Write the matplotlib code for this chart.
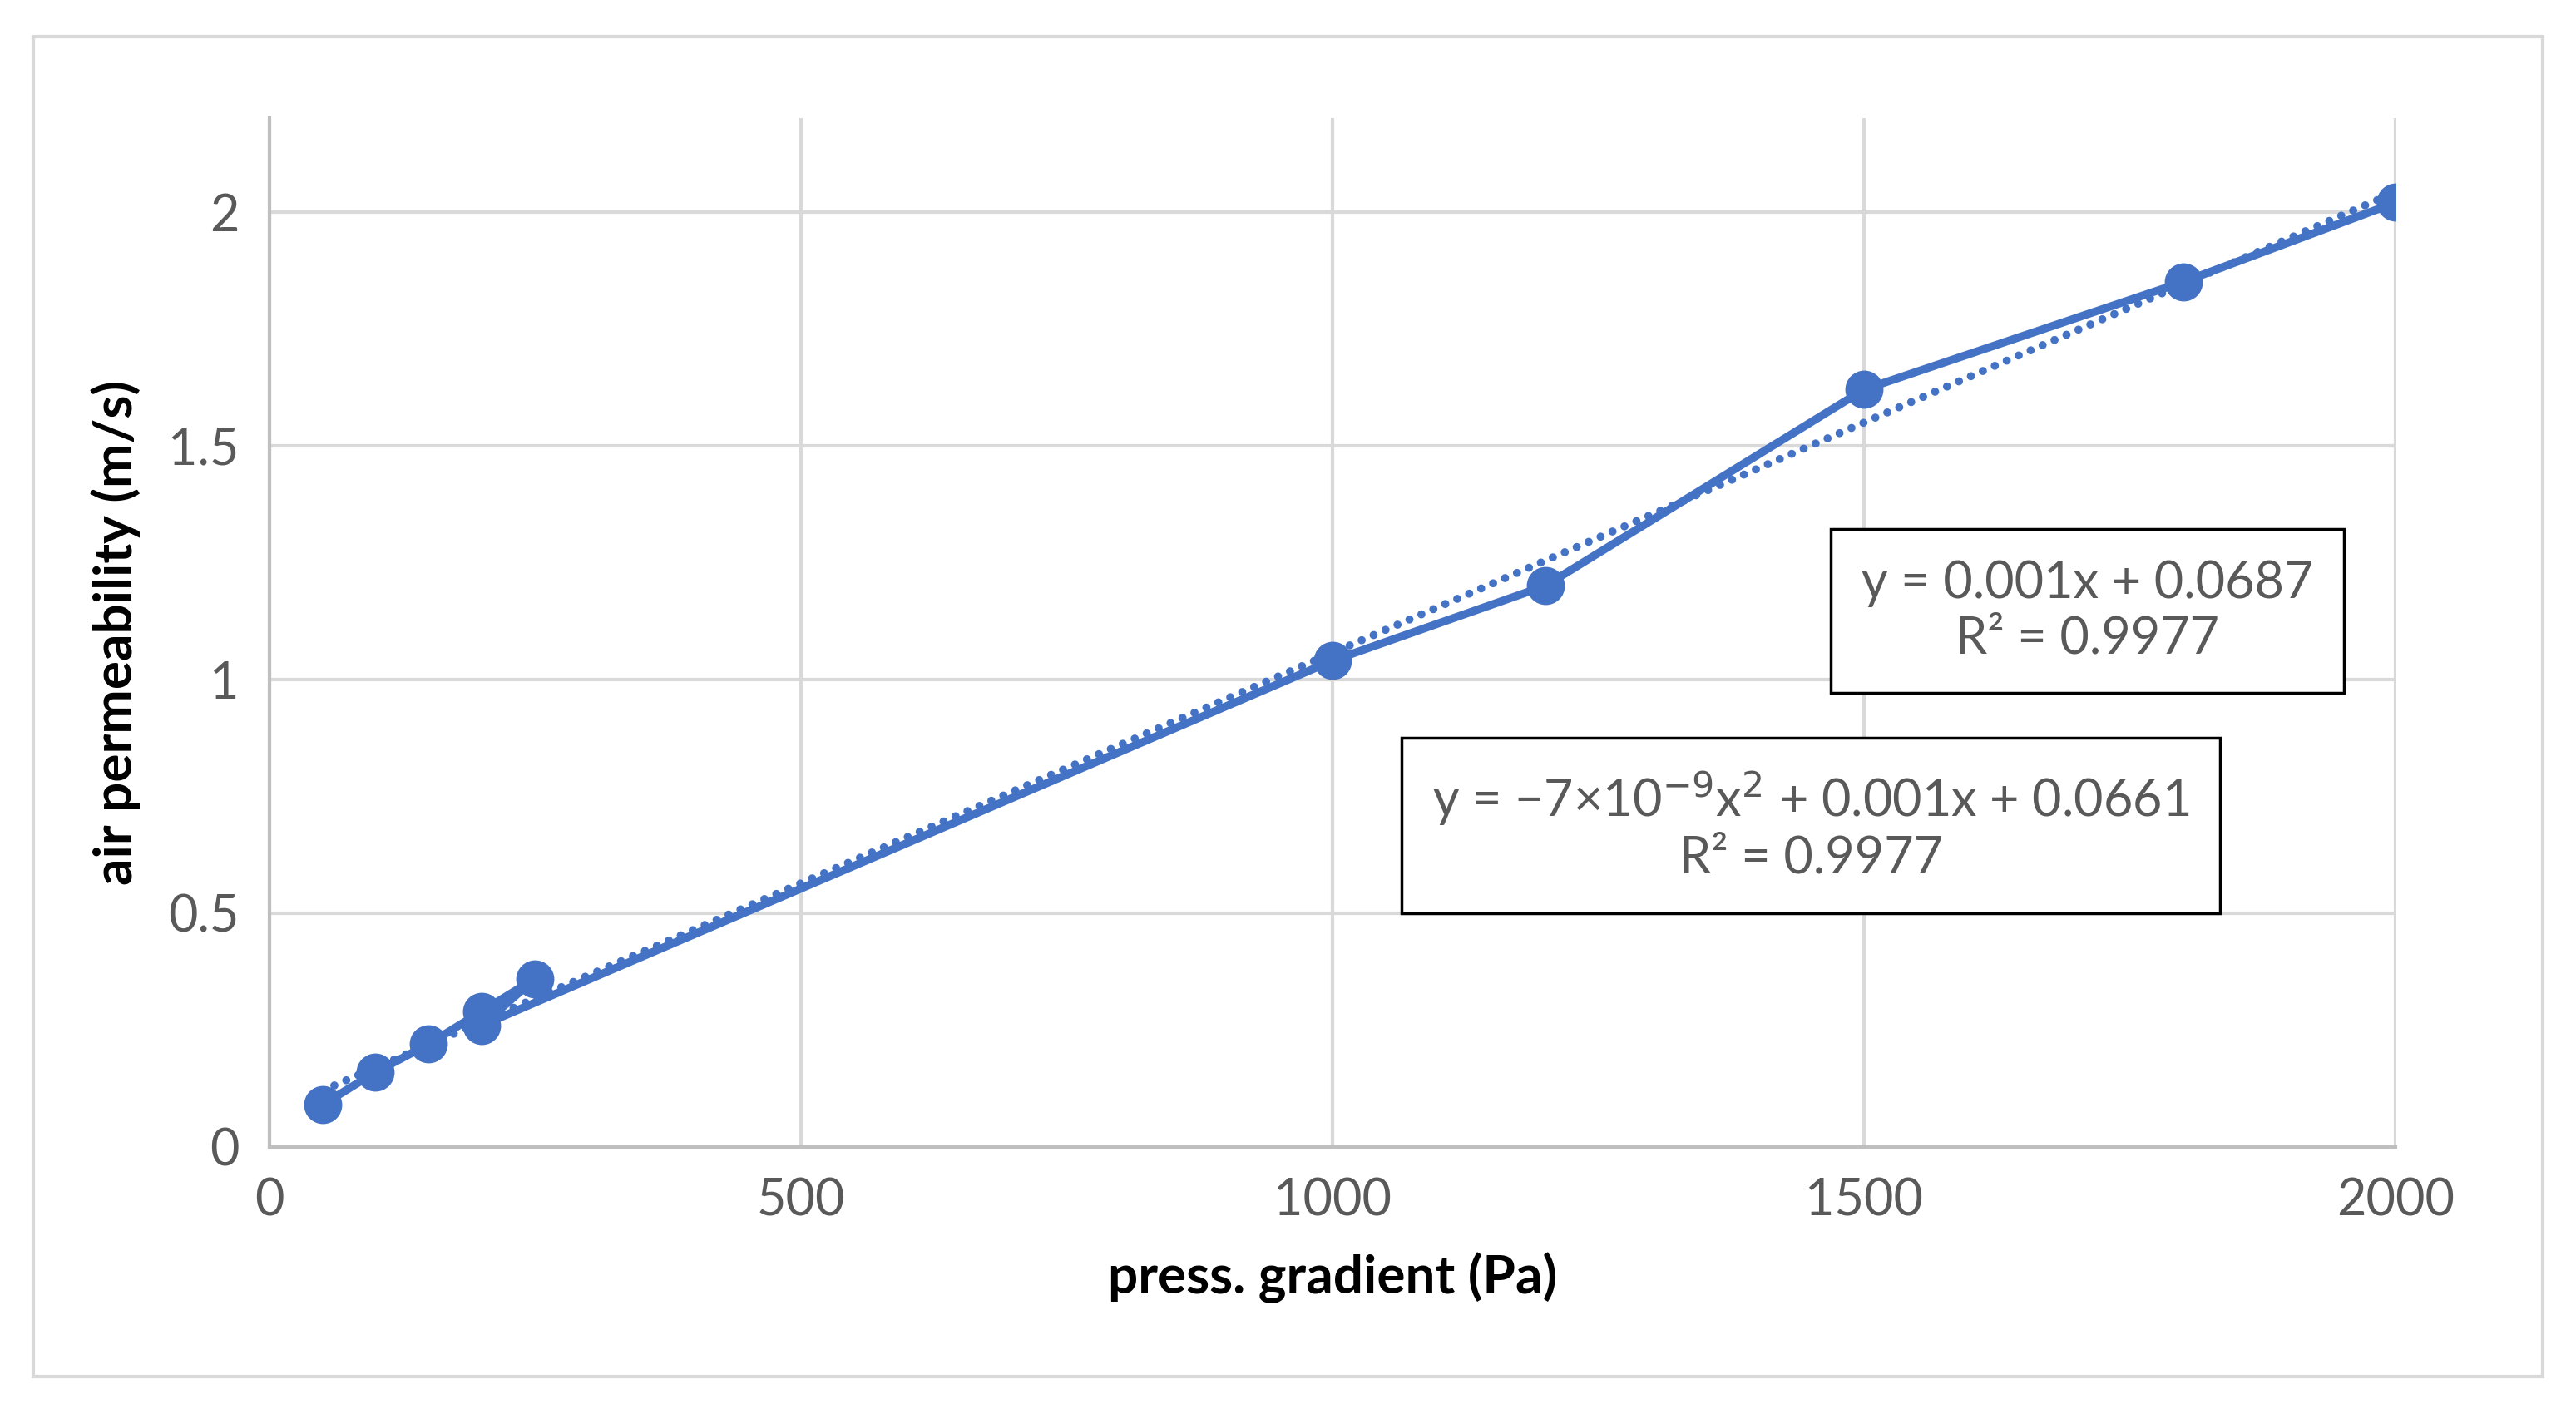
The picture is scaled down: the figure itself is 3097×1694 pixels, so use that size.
import matplotlib
matplotlib.use("Agg")
import matplotlib.pyplot as plt
import numpy as np
from matplotlib.patches import Rectangle

plt.rcParams["font.family"] = ["Lato", "DejaVu Sans"]

# measurement order as plotted (line joins points in this order)
press = [50, 100, 150, 200, 250, 200, 1000, 1200, 1500, 1800, 2000]
perm = [0.09, 0.16, 0.22, 0.29, 0.36, 0.26, 1.04, 1.20, 1.62, 1.85, 2.02]
eq_linear = "y = 0.001x + 0.0687\nR² = 0.9977"
eq_poly = "y = \u22127\u00d710$^{\u22129}$x$^{2}$ + 0.001x + 0.0661\nR² = 0.9977"

BLUE = "#4472C4"

fig = plt.figure(figsize=(30.97, 16.94), dpi=100)
ax = fig.add_axes([0.1045, 0.186, 0.8255, 0.730])

# trendline fitted from the data
coef = np.polyfit(press, perm, 1)
xt = np.array([50, 2000])
ax.plot(xt, np.polyval(coef, xt), linestyle=(0, (0.01, 1.6)), color=BLUE,
        linewidth=7, dash_capstyle="round", zorder=2)
ax.plot(press, perm, color=BLUE, linewidth=7, marker="o", markersize=32, zorder=3)

ax.set_xlim(0, 2000)
ax.set_ylim(0, 2.2)
ax.set_xticks(np.arange(0, 2001, 500))
ax.set_yticks([0, 0.5, 1, 1.5, 2])
ax.set_yticklabels(["0", "0.5", "1", "1.5", "2"])
ax.grid(True, color="#D9D9D9", linewidth=3)
ax.set_axisbelow(True)
for s in ["top", "right"]:
    ax.spines[s].set_visible(False)
for s in ["left", "bottom"]:
    ax.spines[s].set_color("#BFBFBF")
    ax.spines[s].set_linewidth(3)
ax.tick_params(length=0, labelsize=44, labelcolor="#595959", pad=26)
ax.set_xlabel("press. gradient (Pa)", fontsize=46, fontweight="bold", labelpad=24)
ax.set_ylabel("air permeability (m/s)", fontsize=46, fontweight="bold", labelpad=24)

box = dict(boxstyle="square,pad=0.6", facecolor="white", edgecolor="black", linewidth=2.5)
ax.text(0.855, 0.521, eq_linear, transform=ax.transAxes, ha="center", va="center",
        fontsize=44, color="#595959", bbox=box, linespacing=1.2)
ax.text(0.725, 0.312, eq_poly, transform=ax.transAxes, ha="center", va="center",
        fontsize=44, color="#595959", bbox=box, linespacing=1.2)

fig.patches.append(Rectangle((0.013, 0.023), 0.974, 0.951, transform=fig.transFigure,
                             fill=False, edgecolor="#D9D9D9", linewidth=3))

fig.savefig("out.png", dpi=100)
